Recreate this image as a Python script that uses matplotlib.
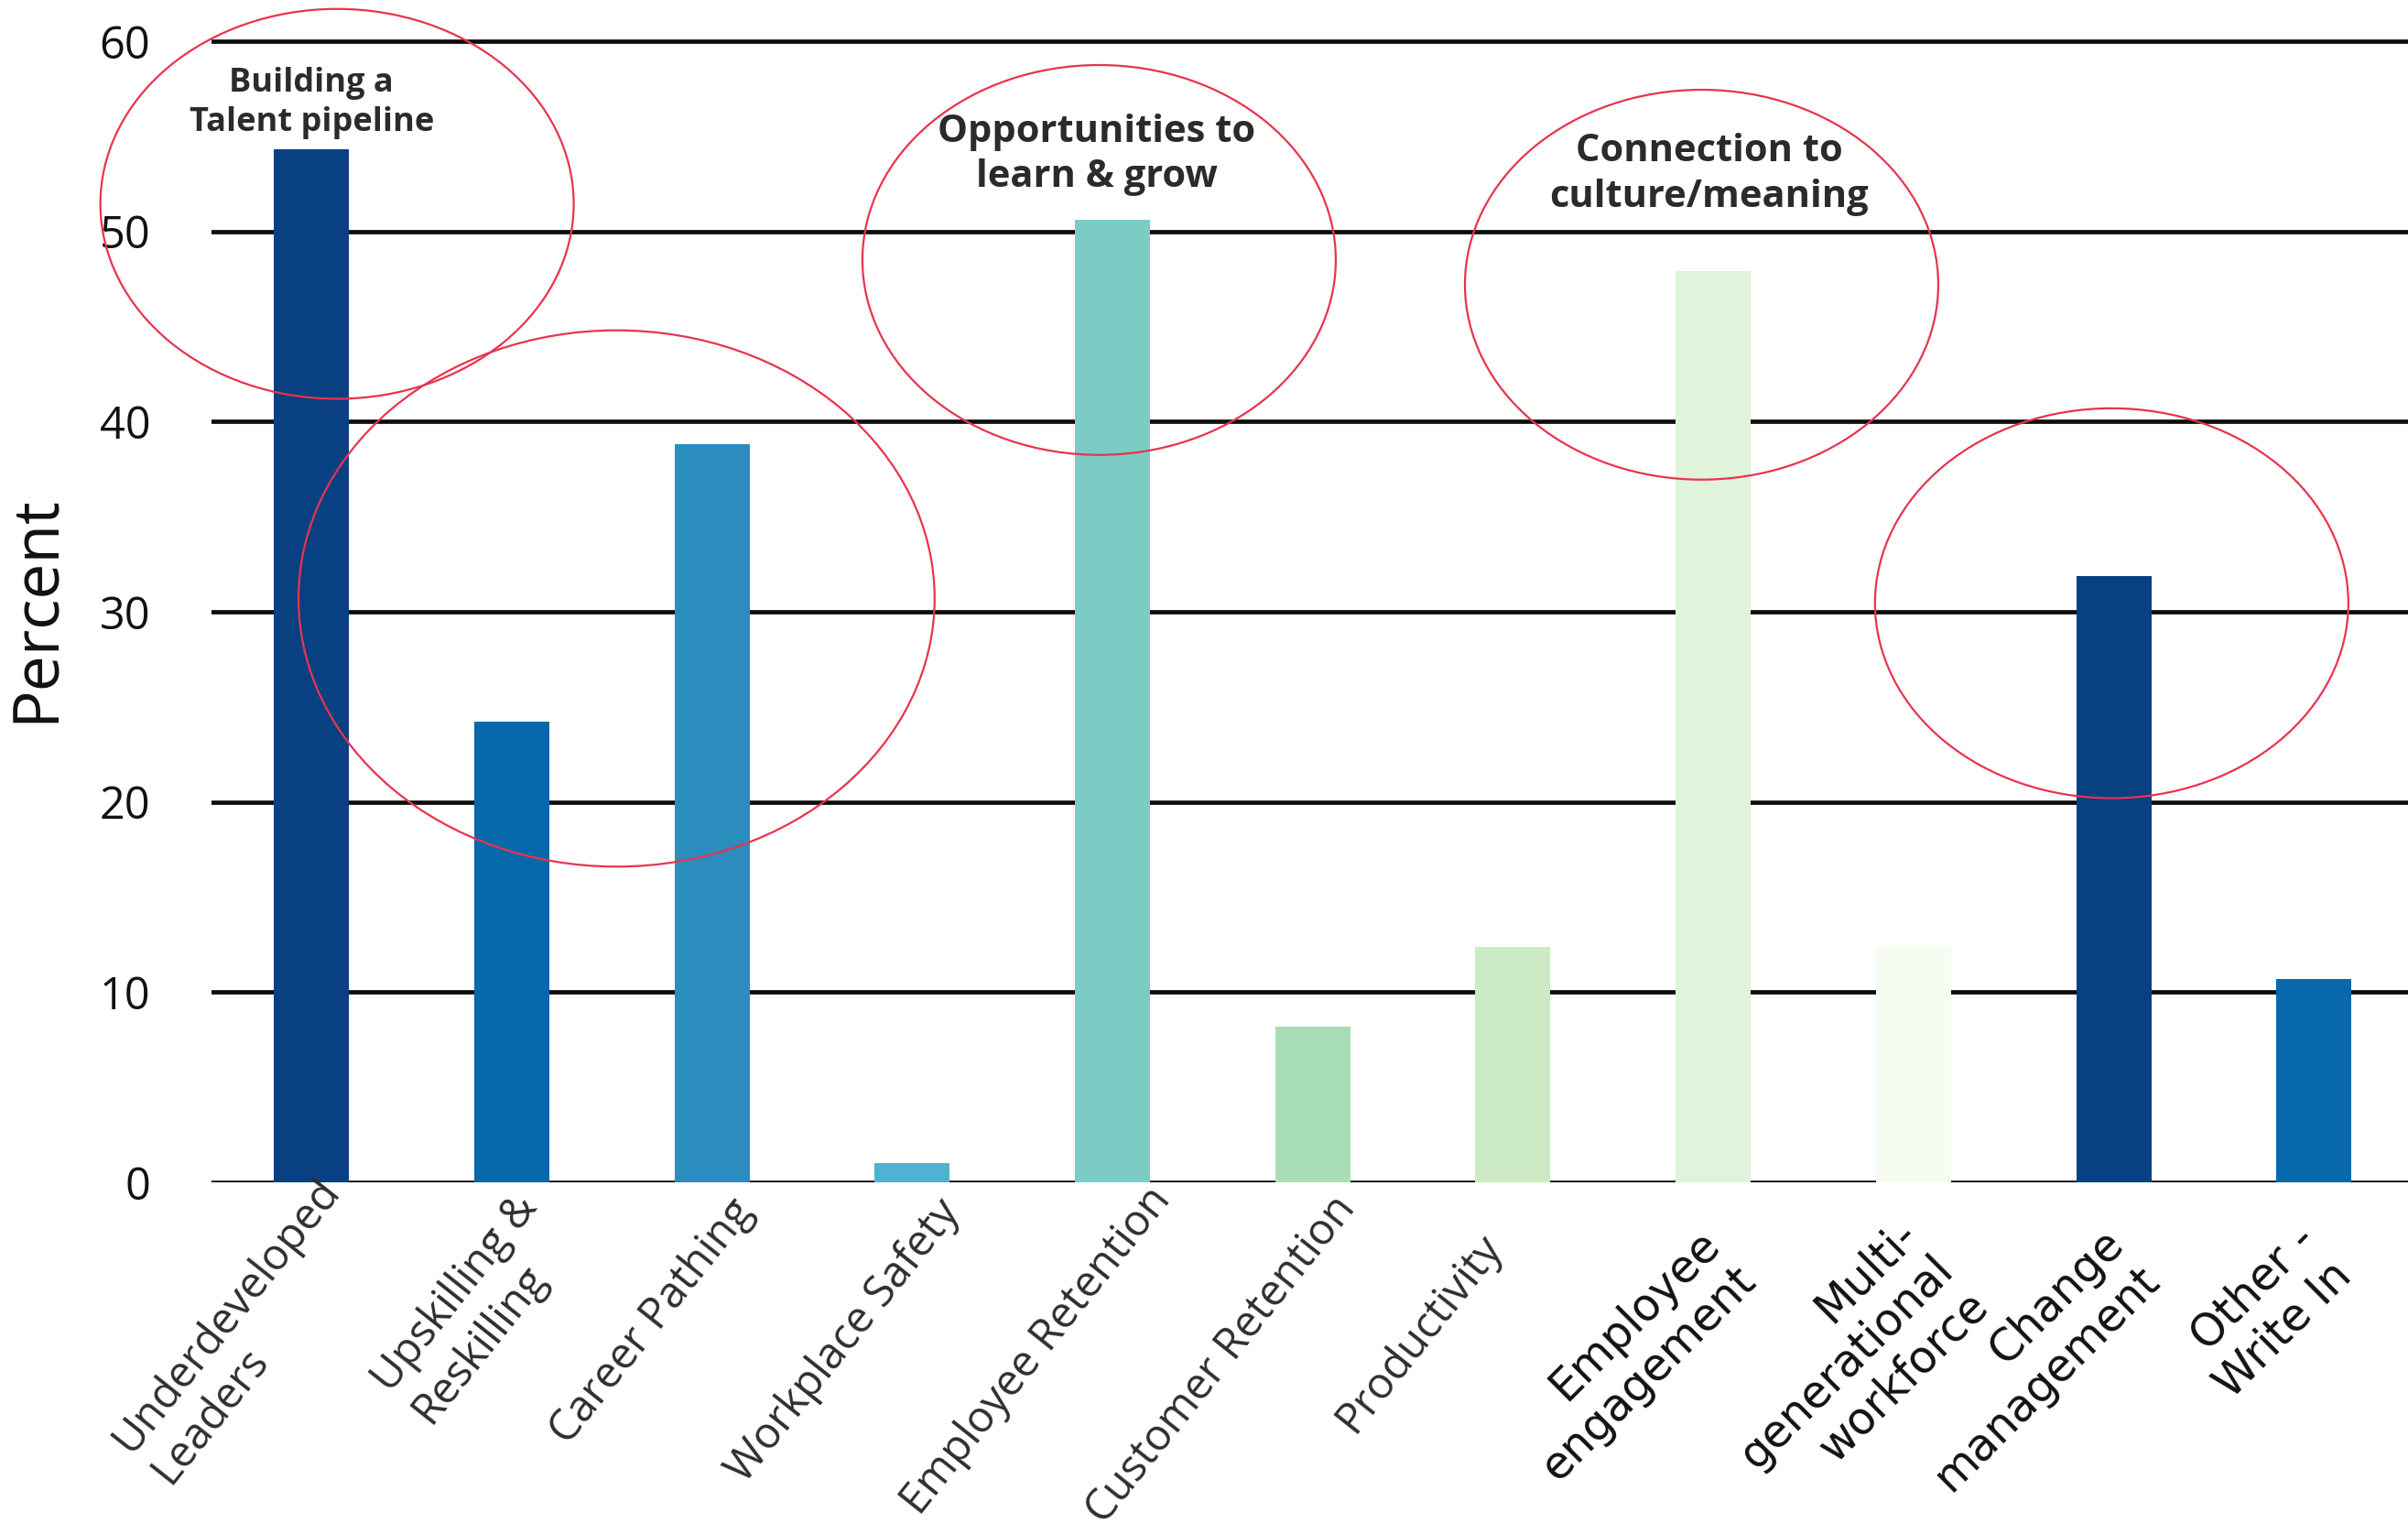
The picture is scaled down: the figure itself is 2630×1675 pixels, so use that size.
import matplotlib
matplotlib.use("Agg")
import matplotlib.pyplot as plt
from matplotlib.patches import Ellipse

# ---- data -------------------------------------------------------------
categories = [
    "Underdeveloped\nLeaders",
    "Upskilling &\nReskilling",
    "Career Pathing",
    "Workplace Safety",
    "Employee Retention",
    "Customer Retention",
    "Productivity",
    "Employee\nengagement",
    "Multi-\ngenerational\nworkforce",
    "Change\nmanagement",
    "Other -\nWrite In",
]
percent = [54.3, 24.2, 38.8, 1.0, 50.6, 8.2, 12.4, 47.9, 12.4, 31.9, 10.7]
y_ticks = [0, 10, 20, 30, 40, 50, 60]

bar_colors = ["#084081", "#0868ac", "#2b8cbe", "#4eb3d3", "#7bccc4", "#a8ddb5",
              "#ccebc5", "#e0f3db", "#f7fcf0", "#084081", "#0868ac"]

# callout texts and the ellipses drawn around groups of bars
callout_texts = ["Building a\nTalent pipeline", "Opportunities to\nlearn & grow",
                 "Connection to\nculture/meaning"]
callout_xy = [(0.0, 56.74), (3.92, 54.04), (6.98, 52.99)]
callout_sizes = [26, 30, 30]
ellipse_specs = [  # (center x, center y, width, height) in data units
    (0.127, 51.45, 2.364, 20.5),
    (1.523, 30.7, 3.177, 28.2),
    (3.933, 48.5, 2.364, 20.5),
    (6.942, 47.2, 2.364, 20.5),
    (8.99, 30.45, 2.364, 20.5),
]

# ---- label placement (offsets in pixels from tick foot) ------------------
label_style = [  # (dx, dy, rotation, align, family, color, size)
    (3, -14, 51.5, "left", "Open Sans", "#2e2e2e", 34),
    (1, 5, 51.5, "left", "Open Sans", "#2e2e2e", 34),
    (18, 9, 51.5, "left", "Open Sans", "#2e2e2e", 34),
    (25, 10, 51.5, "left", "Open Sans", "#2e2e2e", 34),
    (36, -4, 51.5, "left", "Open Sans", "#2e2e2e", 34),
    (19, 6, 51.5, "left", "Open Sans", "#2e2e2e", 34),
    (-39, 48, 51.5, "left", "Open Sans", "#2e2e2e", 34),
    (-18, 43, 45, "right", "DejaVu Sans", "#111111", 35),
    (-21, 32, 45, "right", "DejaVu Sans", "#111111", 35),
    (-14, 43, 45, "right", "DejaVu Sans", "#111111", 35),
    (-23, 38, 45, "right", "DejaVu Sans", "#111111", 35),
]

W, H, DPI = 2630, 1675, 100
fig = plt.figure(figsize=(W / DPI, H / DPI), dpi=DPI)
fig.patch.set_facecolor("white")

ax_left = 231 / W
ax_bottom = 1 - 1291 / H
ax = fig.add_axes([ax_left, ax_bottom, 1 - ax_left, 1 - ax_bottom])

x = list(range(len(categories)))
ax.bar(x, percent, width=0.375, color=bar_colors, zorder=2)

ax.set_xlim(-0.5, 10.47)
ax.set_ylim(0, 62.17)

ax.set_yticks(y_ticks)
ax.set_yticklabels([str(t) for t in y_ticks], fontfamily="Open Sans",
                   fontsize=35, color="#111111")
ax.tick_params(axis="y", length=0, pad=48)
for lbl in ax.get_yticklabels():
    lbl.set_va("center_baseline")
ax.set_xticks(x)
ax.tick_params(axis="x", length=0, labelbottom=False)

for t in y_ticks:
    ax.axhline(t, color="#0d0d0d", linewidth=3.4, zorder=1)

for s in ax.spines.values():
    s.set_visible(False)

ax.set_ylabel("Percent", fontfamily="Open Sans", fontsize=50, color="#111111")
ax.yaxis.set_label_coords((41 - 231) / (W - 231), (1291 - 665) / 1291)
ax.yaxis.label.set_va("center")

px2pt = 72 / DPI
for i, (lab, st) in enumerate(zip(categories, label_style)):
    dx, dy, rot, align, fam, col, size = st
    ax.annotate(lab, xy=(i, 0), xycoords=("data", "axes fraction"),
                xytext=(dx * px2pt, -dy * px2pt), textcoords="offset points",
                rotation=rot, rotation_mode="anchor", ha="right", va="top",
                multialignment=align, fontfamily=fam, fontsize=size, color=col,
                annotation_clip=False)

for (cx, cy, w, h) in ellipse_specs:
    ax.add_patch(Ellipse((cx, cy), w, h, fill=False, edgecolor="#e8344e",
                         linewidth=1.6, zorder=4, clip_on=False))

for txt, (tx, ty), fs in zip(callout_texts, callout_xy, callout_sizes):
    ax.text(tx, ty, txt, ha="center", va="center", fontfamily="Open Sans",
            fontweight="bold", fontsize=fs, color="#2b2b2b", linespacing=1.27,
            zorder=5)

fig.savefig("out.png", dpi=DPI, facecolor="white")
